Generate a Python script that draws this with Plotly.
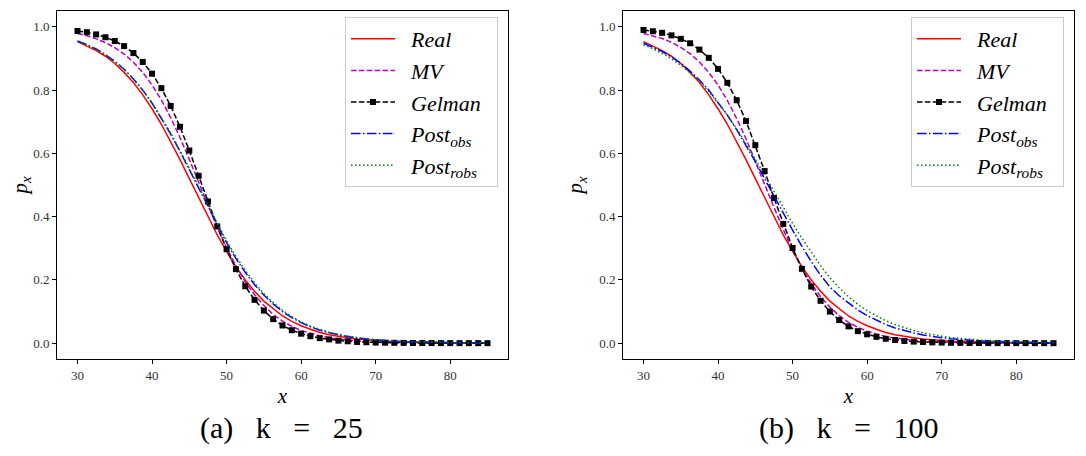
import plotly.graph_objects as go

# ---------------- data ----------------
x_vals = [30, 31.25, 32.5, 33.75, 35, 36.25, 37.5, 38.75, 40, 41.25, 42.5, 43.75,
          45, 46.25, 47.5, 48.75, 50, 51.25, 52.5, 53.75, 55, 56.25, 57.5, 58.75,
          60, 61.25, 62.5, 63.75, 65, 66.25, 67.5, 68.75, 70, 71.25, 72.5, 73.75,
          75, 76.25, 77.5, 78.75, 80, 81.25, 82.5, 83.75, 85]

real = [0.953, 0.940, 0.925, 0.907, 0.884, 0.856, 0.824, 0.785, 0.741, 0.692, 0.638, 0.580,
        0.520, 0.459, 0.399, 0.342, 0.290, 0.242, 0.200, 0.164, 0.133, 0.108, 0.086, 0.069,
        0.055, 0.044, 0.034, 0.027, 0.021, 0.017, 0.013, 0.010, 0.008, 0.006, 0.005, 0.004,
        0.003, 0.002, 0.002, 0.0015, 0.0012, 0.0009, 0.0007, 0.0006, 0.0004]

# panel (a) k = 25
mv_a = [0.979, 0.972, 0.962, 0.950, 0.934, 0.914, 0.888, 0.856, 0.816, 0.769, 0.713, 0.650,
        0.581, 0.509, 0.436, 0.366, 0.302, 0.244, 0.194, 0.153, 0.119, 0.091, 0.070, 0.053,
        0.040, 0.031, 0.023, 0.017, 0.013, 0.010, 0.007, 0.005, 0.004, 0.003, 0.002, 0.0017,
        0.0013, 0.0010, 0.0007, 0.0005, 0.0004, 0.0003, 0.0002, 0.0002, 0.0001]
gelman_a = [0.987, 0.983, 0.976, 0.967, 0.955, 0.939, 0.917, 0.889, 0.852, 0.806, 0.750, 0.684,
            0.609, 0.529, 0.448, 0.369, 0.297, 0.234, 0.180, 0.137, 0.103, 0.076, 0.056, 0.041,
            0.030, 0.022, 0.016, 0.012, 0.008, 0.006, 0.004, 0.003, 0.002, 0.0016, 0.0012, 0.0009,
            0.0006, 0.0004, 0.0003, 0.0002, 0.0002, 0.0001, 0.0001, 0.0001, 0.0]
post_obs_a = [0.955, 0.944, 0.930, 0.912, 0.891, 0.866, 0.835, 0.800, 0.759, 0.712, 0.661, 0.606,
              0.548, 0.488, 0.429, 0.372, 0.318, 0.268, 0.224, 0.185, 0.152, 0.124, 0.100, 0.081,
              0.065, 0.052, 0.041, 0.033, 0.026, 0.021, 0.016, 0.013, 0.010, 0.008, 0.006, 0.005,
              0.004, 0.003, 0.0024, 0.0019, 0.0015, 0.0012, 0.0009, 0.0007, 0.0006]
post_robs_a = [0.954, 0.943, 0.929, 0.912, 0.891, 0.866, 0.836, 0.800, 0.760, 0.714, 0.664, 0.609,
               0.552, 0.493, 0.434, 0.377, 0.323, 0.274, 0.230, 0.191, 0.157, 0.128, 0.104, 0.084,
               0.067, 0.054, 0.043, 0.034, 0.027, 0.022, 0.017, 0.014, 0.011, 0.0085, 0.0068, 0.0053,
               0.0042, 0.0033, 0.0026, 0.0021, 0.0016, 0.0013, 0.0010, 0.0008, 0.0006]

# panel (b) k = 100
mv_b = [0.979, 0.972, 0.963, 0.951, 0.935, 0.915, 0.889, 0.856, 0.816, 0.767, 0.710, 0.646,
        0.576, 0.503, 0.430, 0.359, 0.295, 0.237, 0.188, 0.147, 0.114, 0.087, 0.066, 0.050,
        0.038, 0.029, 0.021, 0.016, 0.012, 0.009, 0.007, 0.005, 0.0037, 0.0028, 0.0021, 0.0015,
        0.0011, 0.0008, 0.0006, 0.0005, 0.0003, 0.0003, 0.0002, 0.0001, 0.0001]
gelman_b = [0.990, 0.986, 0.981, 0.973, 0.962, 0.948, 0.928, 0.902, 0.867, 0.823, 0.768, 0.702,
            0.626, 0.544, 0.459, 0.377, 0.301, 0.235, 0.179, 0.134, 0.100, 0.073, 0.053, 0.038,
            0.028, 0.020, 0.014, 0.010, 0.007, 0.005, 0.0037, 0.0026, 0.0019, 0.0013, 0.0010, 0.0007,
            0.0005, 0.0003, 0.0002, 0.0002, 0.0001, 0.0001, 0.0001, 0.0, 0.0]
post_obs_b = [0.948, 0.936, 0.922, 0.905, 0.885, 0.860, 0.832, 0.800, 0.762, 0.721, 0.675, 0.626,
              0.574, 0.520, 0.465, 0.410, 0.357, 0.306, 0.258, 0.215, 0.178, 0.150, 0.126, 0.105,
              0.087, 0.072, 0.059, 0.048, 0.039, 0.032, 0.026, 0.021, 0.017, 0.014, 0.011, 0.009,
              0.0072, 0.0058, 0.0047, 0.0038, 0.0030, 0.0024, 0.0020, 0.0016, 0.0013]
post_robs_b = [0.943, 0.931, 0.916, 0.899, 0.879, 0.855, 0.828, 0.796, 0.760, 0.721, 0.678, 0.631,
               0.582, 0.531, 0.479, 0.428, 0.379, 0.332, 0.287, 0.245, 0.207, 0.175, 0.147, 0.123,
               0.103, 0.086, 0.071, 0.059, 0.049, 0.040, 0.033, 0.027, 0.022, 0.018, 0.015, 0.012,
               0.0098, 0.0080, 0.0065, 0.0053, 0.0043, 0.0035, 0.0028, 0.0023, 0.0019]

series_names = ["<i>Real</i>", "<i>MV</i>", "<i>Gelman</i>",
                "<i>Post</i><sub><i>obs</i></sub>", "<i>Post</i><sub><i>robs</i></sub>"]
y_ticks = [0.0, 0.2, 0.4, 0.6, 0.8, 1.0]
x_ticks = [30, 40, 50, 60, 70, 80]
x_title = "<i>x</i>"
y_title = "<i>p<sub>x</sub></i>"
captions = ["(a)&nbsp;&nbsp;&nbsp;k&nbsp;&nbsp;&nbsp;=&nbsp;&nbsp;&nbsp;25",
            "(b)&nbsp;&nbsp;&nbsp;k&nbsp;&nbsp;&nbsp;=&nbsp;&nbsp;&nbsp;100"]

# ---------------- styling ----------------
OFF = 8                 # page body margin of the html page
W, H = 1086 - 2 * OFF, 456 - 2 * OFF
FONT = "Liberation Serif"


def px(xpix):
    return (xpix - OFF) / W


def py(ypix):
    return 1 - (ypix - OFF) / H


styles = [
    dict(color="#ff0000", dash="solid", marker=False),
    dict(color="#bf00bf", dash="5.5px,2.4px", marker=False),
    dict(color="#000000", dash="5.5px,2.4px", marker=True),
    dict(color="#0000ff", dash="9.6px,2.4px,1.5px,2.4px", marker=False),
    dict(color="#008000", dash="1.5px,2.5px", marker=False),
]

fig = go.Figure()
panels = [
    ("x", "y", "legend", [real, mv_a, gelman_a, post_obs_a, post_robs_a]),
    ("x2", "y2", "legend2", [real, mv_b, gelman_b, post_obs_b, post_robs_b]),
]
for xa, ya, leg, ys in panels:
    for i, (name, yv, st) in enumerate(zip(series_names, ys, styles)):
        kw = dict(x=x_vals, y=yv, name="&nbsp;&nbsp;" + name + "&nbsp;&nbsp;",
                  xaxis=xa, yaxis=ya, legend=leg,
                  line=dict(color=st["color"], width=1.5, dash=st["dash"]))
        if st["marker"]:
            kw["mode"] = "lines+markers"
            kw["marker"] = dict(symbol="square", size=6, color=st["color"])
        else:
            kw["mode"] = "lines"
        fig.add_trace(go.Scatter(**kw))

# plot-area pixel geometry (in page pixels)
left_a, right_a = 57, 508
left_b, right_b = 623, 1074
top_px, bot_px = 11, 359


def ax_common():
    return dict(showline=True, mirror=True, linecolor="black", linewidth=1,
                ticks="outside", ticklen=4, tickwidth=1, tickcolor="black",
                showgrid=False, zeroline=False, automargin=False,
                tickfont=dict(family=FONT, size=13, color="#333333"))


xt = dict(text=x_title, font=dict(family=FONT, size=21, color="black"), standoff=6)
yt = dict(text=y_title, font=dict(family=FONT, size=21, color="black"), standoff=10)

fig.update_layout(
    width=W, height=H,
    margin=dict(l=0, r=0, t=0, b=0),
    paper_bgcolor="white", plot_bgcolor="white",
    font=dict(family=FONT),
    xaxis=dict(domain=[px(left_a), px(right_a)], range=[27.25, 87.75],
               tickvals=x_ticks, anchor="y", title=xt, **ax_common()),
    yaxis=dict(domain=[py(bot_px), py(top_px)], range=[-0.05, 1.05],
               tickvals=y_ticks, tickformat=".1f", anchor="x", title=yt, **ax_common()),
    xaxis2=dict(domain=[px(left_b), px(right_b)], range=[27.25, 87.75],
                tickvals=x_ticks, anchor="y2", title=xt, **ax_common()),
    yaxis2=dict(domain=[py(bot_px), py(top_px)], range=[-0.05, 1.05],
                tickvals=y_ticks, tickformat=".1f", anchor="x2", title=yt, **ax_common()),
)

legend_style = dict(bgcolor="rgba(255,255,255,0.8)", bordercolor="#cccccc", borderwidth=1,
                    font=dict(family=FONT, size=22, color="black"),
                    xanchor="left", yanchor="top", itemwidth=44, tracegroupgap=0,
                    traceorder="normal")
fig.update_layout(
    legend=dict(x=px(345), y=py(17), **legend_style),
    legend2=dict(x=px(911), y=py(17), **legend_style),
)

# captions below each panel
ann = []
for cap, cx in zip(captions, [281, 848]):
    ann.append(dict(x=px(cx), y=py(428), xref="paper", yref="paper", text=cap,
                    showarrow=False, font=dict(family=FONT, size=30, color="black"),
                    xanchor="center", yanchor="middle"))
fig.update_layout(annotations=ann)

fig.write_html("out.html")
